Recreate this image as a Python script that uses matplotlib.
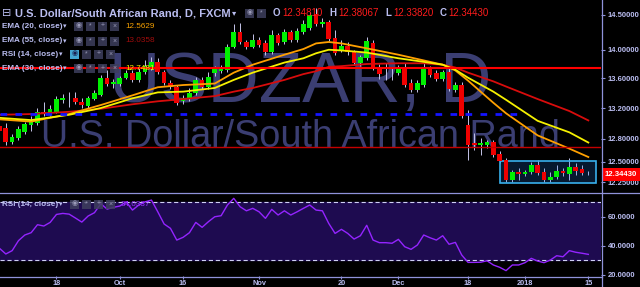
import matplotlib
matplotlib.use('Agg')
import matplotlib.pyplot as plt
import matplotlib.transforms as mtransforms
from matplotlib.lines import Line2D
from matplotlib.patches import Rectangle
from matplotlib.ticker import NullLocator
import numpy as np

# USDZAR daily candles, 5 Sep 2017 .. 15 Jan 2018 (one entry per trading day)
opens = [12.96, 12.94, 12.75, 12.81, 12.88, 12.98, 13.00, 13.15, 13.12, 13.15,
         13.31, 13.33, 13.33, 13.28, 13.23, 13.32, 13.37, 13.61, 13.52, 13.52,
         13.61, 13.68, 13.58, 13.69, 13.74, 13.83, 13.69, 13.54, 13.48, 13.29,
         13.32, 13.40, 13.58, 13.48, 13.68, 13.70, 13.72, 14.04, 14.25, 14.11,
         14.04, 14.14, 14.10, 13.97, 14.21, 14.11, 14.25, 14.14, 14.25, 14.31,
         14.52, 14.37, 14.40, 14.17, 14.00, 14.05, 13.97, 13.81, 13.88, 14.10,
         13.76, 13.68, 13.67, 13.68, 13.73, 13.54, 13.44, 13.51, 13.74, 13.68,
         13.59, 13.69, 13.44, 13.51, 12.98, 12.74, 12.72, 12.72, 12.75, 12.60,
         12.52, 12.27, 12.37, 12.35, 12.37, 12.46, 12.37, 12.27, 12.31, 12.39,
         12.35, 12.44, 12.41, 12.3481]
highs = [13.01, 13.00, 12.86, 12.96, 13.01, 13.09, 13.20, 13.28, 13.24, 13.36,
         13.39, 13.42, 13.42, 13.33, 13.36, 13.44, 13.65, 13.72, 13.59, 13.63,
         13.72, 13.72, 13.74, 13.86, 13.90, 13.88, 13.72, 13.58, 13.51, 13.37,
         13.47, 13.62, 13.62, 13.69, 13.77, 13.79, 14.08, 14.37, 14.38, 14.14,
         14.22, 14.18, 14.14, 14.28, 14.24, 14.30, 14.28, 14.31, 14.43, 14.54,
         14.60, 14.46, 14.43, 14.28, 14.14, 14.11, 14.00, 13.93, 14.18, 14.14,
         13.80, 13.81, 13.74, 13.79, 13.81, 13.59, 13.58, 13.81, 13.77, 13.72,
         13.72, 13.74, 13.55, 13.55, 13.17, 12.87, 12.81, 12.78, 12.78, 12.64,
         12.55, 12.40, 12.42, 12.40, 12.50, 12.52, 12.42, 12.37, 12.46, 12.42,
         12.55, 12.49, 12.46, 12.38067]
lows = [12.86, 12.72, 12.73, 12.78, 12.86, 12.90, 12.98, 13.09, 13.09, 13.13,
        13.27, 13.21, 13.25, 13.20, 13.20, 13.31, 13.36, 13.50, 13.47, 13.50,
        13.59, 13.55, 13.55, 13.66, 13.72, 13.66, 13.51, 13.46, 13.24, 13.25,
        13.29, 13.37, 13.46, 13.46, 13.63, 13.68, 13.69, 14.02, 14.08, 14.01,
        14.02, 14.04, 13.93, 13.94, 14.07, 14.08, 14.11, 14.11, 14.22, 14.28,
        14.34, 14.33, 14.12, 13.93, 13.97, 13.93, 13.79, 13.77, 13.86, 13.72,
        13.59, 13.58, 13.58, 13.65, 13.48, 13.42, 13.42, 13.48, 13.62, 13.57,
        13.57, 13.43, 13.42, 13.07, 12.52, 12.65, 12.59, 12.68, 12.56, 12.49,
        12.25, 12.25, 12.27, 12.32, 12.35, 12.34, 12.25, 12.25, 12.29, 12.32,
        12.27, 12.34, 12.34, 12.3382]
closes = [12.90, 12.75, 12.82, 12.92, 12.99, 13.01, 13.15, 13.12, 13.19, 13.32,
          13.33, 13.34, 13.28, 13.24, 13.33, 13.40, 13.61, 13.52, 13.55, 13.61,
          13.68, 13.58, 13.69, 13.77, 13.83, 13.69, 13.54, 13.48, 13.27, 13.33,
          13.40, 13.58, 13.48, 13.62, 13.73, 13.74, 14.04, 14.25, 14.11, 14.04,
          14.14, 14.07, 13.97, 14.21, 14.10, 14.25, 14.14, 14.27, 14.37, 14.50,
          14.37, 14.40, 14.15, 13.95, 14.05, 13.97, 13.81, 13.90, 14.12, 13.74,
          13.66, 13.67, 13.68, 13.74, 13.51, 13.44, 13.54, 13.74, 13.65, 13.59,
          13.69, 13.46, 13.51, 13.09, 12.72, 12.72, 12.74, 12.75, 12.59, 12.51,
          12.27, 12.37, 12.35, 12.37, 12.46, 12.36, 12.27, 12.31, 12.39, 12.36,
          12.44, 12.39, 12.36, 12.3443]

# RSI(14) per bar
rsi = [38.2, 34.3, 36.6, 43.5, 47.4, 49.0, 54.5, 53.6, 56.1, 61.6,
       62.3, 61.8, 59.1, 56.3, 60.5, 62.8, 69.0, 65.3, 66.5, 67.4,
       70.3, 64.6, 68.1, 70.3, 71.5, 63.4, 55.0, 52.0, 43.9, 45.8,
       49.0, 56.1, 52.7, 56.6, 60.0, 60.7, 68.1, 72.7, 66.9, 64.1,
       65.8, 63.4, 58.9, 65.1, 61.2, 64.1, 61.2, 63.4, 65.8, 68.1,
       64.6, 64.1, 55.4, 48.5, 51.3, 48.5, 44.6, 46.9, 54.1, 43.9,
       42.1, 42.1, 41.7, 44.4, 39.3, 37.5, 40.5, 47.4, 45.5, 43.9,
       46.9, 41.0, 42.3, 33.6, 28.5, 28.5, 28.6, 29.6, 26.7, 25.1,
       22.8, 26.7, 26.7, 28.3, 31.3, 29.4, 28.3, 30.1, 33.1, 32.4,
       36.6, 35.5, 34.8, 34.0337]

# moving averages at these bars
ema_idx = [0, 5, 11, 16, 21, 25, 29, 34, 37, 40, 45, 48, 50, 52, 54, 58,
           63, 67, 70, 72, 74, 78, 80, 85, 90, 93]
ema20 = [13.05, 13.02, 13.12, 13.24, 13.37, 13.48, 13.51, 13.53, 13.68, 13.79,
         13.93, 14.01, 14.09, 14.11, 14.09, 14.02, 13.93, 13.85, 13.79, 13.71,
         13.57, 13.27, 13.13, 12.84, 12.67, 12.5629]
ema30 = [13.07, 13.04, 13.11, 13.20, 13.33, 13.41, 13.42, 13.47, 13.58, 13.68,
         13.82, 13.88, 13.95, 14.00, 13.99, 13.96, 13.88, 13.83, 13.79, 13.72,
         13.61, 13.42, 13.31, 13.03, 12.88, 12.7481]
ema55 = [13.11, 13.12, 13.15, 13.19, 13.25, 13.29, 13.32, 13.36, 13.42, 13.47,
         13.58, 13.66, 13.70, 13.76, 13.77, 13.80, 13.81, 13.81, 13.79, 13.75,
         13.68, 13.56, 13.49, 13.32, 13.16, 13.0358]

price_ticks = [14.5, 14.0, 13.6, 13.2, 12.8, 12.5, 12.25]
rsi_ticks = [60, 40, 20]
date_idx = [9, 19, 29, 41, 54, 63, 74, 83, 93]
date_labels = ['18', 'Oct', '16', 'Nov', '20', 'Dec', '18', '2018', '15']

resist_level = 13.74
support_level = 12.69
dash_level = 13.12

LAV = '#babdf0'
AXC = '#8f92da'
FONT = ['Liberation Sans', 'DejaVu Sans']

plt.rcParams['font.family'] = FONT
plt.rcParams['lines.scale_dashes'] = False

W, H = 640, 287


def fx(px):
    return px / W


def fy(py):
    return 1 - py / H


fig = plt.figure(figsize=(6.4, 2.87), dpi=100, facecolor='black')
ax = fig.add_axes([0, fy(192), 601 / W, 192 / H], facecolor='black')
ax2 = fig.add_axes([0, fy(276), 601 / W, 82 / H], facecolor='black')

'''price pane'''
o = np.array(opens)
h = np.array(highs)
l = np.array(lows)
c = np.array(closes)
x = np.arange(len(c))
up = c >= o
body_lo = np.minimum(o, c)
body_hi = np.maximum(o, c)
body_h = np.maximum(body_hi - body_lo, 0.006)
cols = np.where(up, '#00f000', '#f00000')

ax.set_yscale('log')
ax.set_xlim(0.08, 95.0)
ax.set_ylim(12.127, 14.721)

# watermark
ax.text(0.5, 0.469, 'USDZAR, D', transform=ax.transAxes, ha='center', va='baseline',
        fontsize=51, color='#3b3e72', zorder=0)
ax.text(0.5, 0.234, 'U.S. Dollar/South African Rand', transform=ax.transAxes, ha='center',
        va='baseline', fontsize=27.2, color='#3b3e72', zorder=0)

ax.vlines(x, l, h, color='#c4c4e8', lw=0.7, zorder=2)
ax.bar(x, body_h, bottom=body_lo, width=0.74, color=cols, linewidth=0, zorder=3)

ax.plot(ema_idx, ema55, color='#d80c0c', lw=1.3, zorder=4)
ax.plot(ema_idx, ema20, color='#ffa000', lw=1.3, zorder=4)
ax.plot(ema_idx, ema30, color='#f5f000', lw=1.3, zorder=4)

ax.axhline(resist_level, color='#ff0000', lw=1.5, zorder=5)
ax.axhline(support_level, color='#c40000', lw=1.0, zorder=5)
ax.plot([0.08, 83], [dash_level, dash_level], color='#1414ff', lw=2.0,
        ls=(0, (4.8, 6)), zorder=5)

# consolidation box
ax.add_patch(Rectangle((79.1, 12.237), 15.1, 12.511 - 12.237, facecolor=(0.12, 0.45, 0.85, 0.22),
                       edgecolor='#38b0ec', lw=1.2, zorder=2.5))

ax.yaxis.tick_right()
ax.yaxis.set_minor_locator(NullLocator())
ax.set_yticks(price_ticks)
ax.set_yticklabels(['%.5f' % t for t in price_ticks])
ax.tick_params(axis='y', length=3, width=0.8, color=AXC, labelcolor=LAV, labelsize=5.5, pad=2)
for lab in ax.get_yticklabels():
    lab.set_fontweight('bold')
ax.tick_params(axis='x', bottom=False, labelbottom=False)
for s in ax.spines.values():
    s.set_visible(False)

# last price tag
trans = mtransforms.blended_transform_factory(ax.transAxes, ax.transData)
ax.text(1.006, closes[-1], '%.5f' % closes[-1], transform=trans, ha='left', va='center',
        fontsize=5.6, fontweight='bold', color='white', clip_on=False, zorder=10,
        bbox=dict(boxstyle='square,pad=0.35', facecolor='#ff0000', edgecolor='none'))

'''RSI pane'''
ax2.set_xlim(0.08, 95.0)
ax2.set_ylim(19.1, 75.7)
ax2.axhspan(30, 70, color='#1e0b50', zorder=0)
ax2.axhline(70, color='#cfd0f5', lw=0.8, ls=(0, (3, 2)), zorder=1)
ax2.axhline(30, color='#cfd0f5', lw=0.8, ls=(0, (3, 2)), zorder=1)
ax2.plot(x, rsi, color='#9424ff', lw=1.0, zorder=3)

ax2.yaxis.tick_right()
ax2.set_yticks(rsi_ticks)
ax2.set_yticklabels(['%.4f' % t for t in rsi_ticks])
ax2.tick_params(axis='y', length=3, width=0.8, color=AXC, labelcolor=LAV, labelsize=5.5, pad=2)
ax2.set_xticks(date_idx)
ax2.set_xticklabels(date_labels)
ax2.tick_params(axis='x', length=2, width=0.8, color=AXC, labelcolor=LAV, labelsize=5.3, pad=1)
for lab in ax2.get_yticklabels() + ax2.get_xticklabels():
    lab.set_fontweight('bold')
for s in ax2.spines.values():
    s.set_visible(False)

# pane borders
fig.add_artist(Line2D([fx(601.5), fx(601.5)], [0, 1], transform=fig.transFigure, color=AXC, lw=0.9))
fig.add_artist(Line2D([0, 1], [fy(193), fy(193)], transform=fig.transFigure, color=AXC, lw=0.9))
fig.add_artist(Line2D([0, fx(601.5)], [fy(276.5), fy(276.5)], transform=fig.transFigure, color=AXC, lw=0.9))

'''legend overlay'''
def icons(x0, yc, n, step, first=None):
    glyphs = ['◉', '*', '+', '×']
    for k in range(n):
        fc = '#3e3f5e' if (k > 0 or first is None) else first
        fig.add_artist(Rectangle((fx(x0 + k * step), fy(yc + 4.5)), 9 / W, 9 / H,
                                 transform=fig.transFigure, facecolor=fc, edgecolor='none', alpha=0.85))
        fig.text(fx(x0 + k * step + 4.5), fy(yc), glyphs[k % 4], ha='center', va='center',
                 fontsize=5, color='#9a9ab8' if fc == '#3e3f5e' else '#1a2050', family=FONT)


fig.text(fx(2), fy(13), '⊟', fontsize=8, color=LAV, va='center', family=['DejaVu Sans'])
fig.text(fx(15), fy(13), 'U.S. Dollar/South African Rand, D, FXCM', fontsize=8, fontweight='bold',
         color=LAV, va='center')
fig.text(fx(232), fy(13), '▾', fontsize=6, color=LAV, va='center', family=['DejaVu Sans'])
icons(245, 13, 2, 12)
for lx, lt, vx, vt in [(273, 'O', 282, '12.34810'), (329, 'H', 338, '12.38067'),
                       (385, 'L', 393, '12.33820'), (440, 'C', 448, '12.34430')]:
    fig.text(fx(lx), fy(13), lt, fontsize=7, fontweight='bold', color=LAV, va='center')
    fig.text(fx(vx), fy(13), vt, fontsize=7, color='#ff1c1c', va='center')

rows = [(26, 'EMA (20, close)', '12.5629', '#f5a000'),
        (41, 'EMA (55, close)', '13.0358', '#a00c0c'),
        (54, 'RSI (14, close)', None, None),
        (68, 'EMA (30, close)', '12.7481', '#eeee00')]
for yy, name, val, vc in rows:
    fig.text(fx(2), fy(yy), name, fontsize=5.9, fontweight='bold', color=LAV, va='center')
    if val is None:
        fig.text(fx(59), fy(yy), '▾', fontsize=5, color=LAV, va='center', family=['DejaVu Sans'])
        icons(70, yy, 4, 12, first='#4fc3f7')
    else:
        fig.text(fx(63), fy(yy), '▾', fontsize=5, color=LAV, va='center', family=['DejaVu Sans'])
        icons(74, yy, 4, 12)
        fig.text(fx(125), fy(yy), val, fontsize=5.9, color=vc, va='center')

fig.text(fx(2), fy(204), 'RSI (14, close)', fontsize=5.9, fontweight='bold', color=LAV, va='center')
fig.text(fx(59), fy(204), '▾', fontsize=5, color=LAV, va='center', family=['DejaVu Sans'])
icons(70, 204, 4, 12)
fig.text(fx(121), fy(204), '%.4f' % rsi[-1], fontsize=5.9, color='#9a2cff', va='center')

fig.savefig('out.png', dpi=100, facecolor='black')
